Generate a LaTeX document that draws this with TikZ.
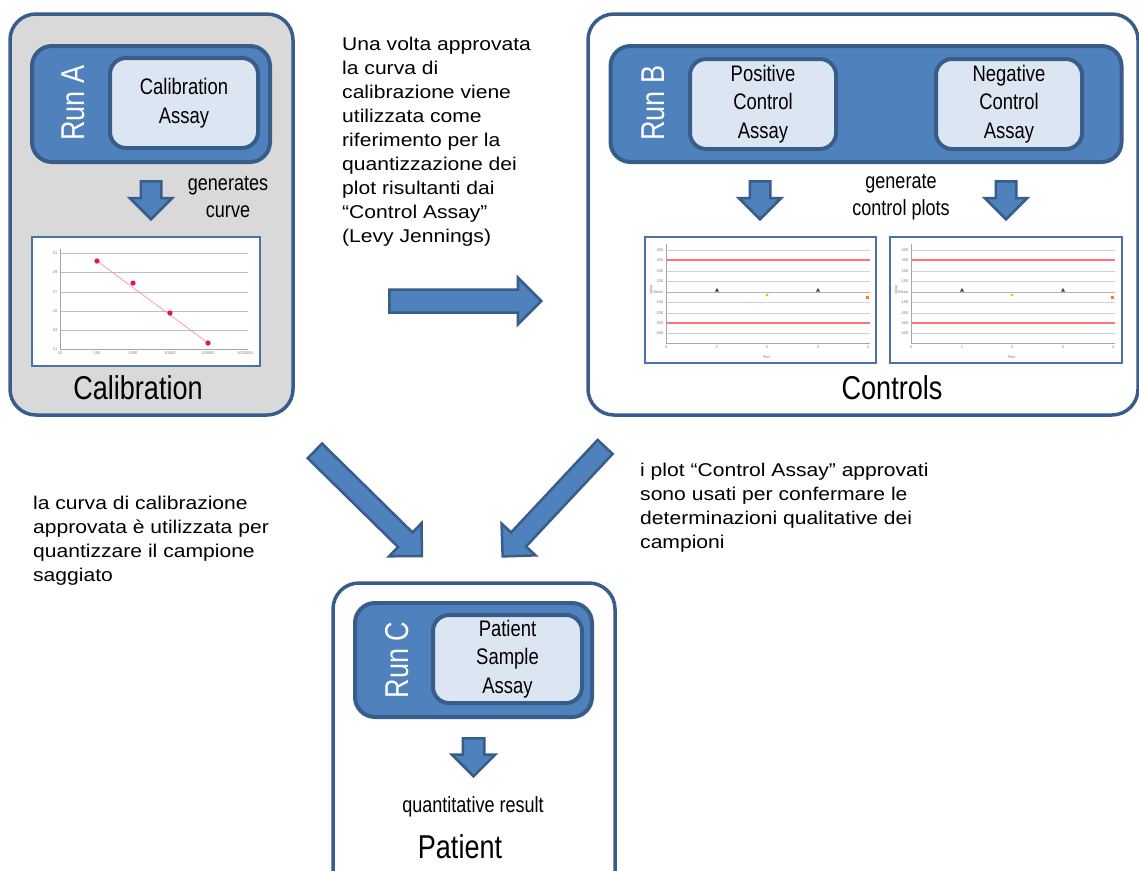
\documentclass[tikz,border=0pt]{standalone}
\usepackage{fontspec}
\setmainfont{Liberation Sans}
\newfontfamily\narrowfont[FakeStretch=0.82]{Liberation Sans}
\newfontfamily\widefont[FakeStretch=1.14]{Liberation Sans}
\usetikzlibrary{shapes.arrows, positioning}

\definecolor{runfill}{HTML}{4F81BD}
\definecolor{runedge}{HTML}{385D8A}
\definecolor{assayfill}{HTML}{DCE6F2}
\definecolor{panelgray}{HTML}{D9D9D9}
\definecolor{chartframe}{HTML}{4A72A8}
\definecolor{ptred}{HTML}{E8105A}

\newcommand{\notefnt}{\widefont\fontsize{18.5}{24}\selectfont}
\newcommand{\boxfnt}{\narrowfont\fontsize{22.5}{28.5}\selectfont}
\newcommand{\runfnt}{\narrowfont\fontsize{33}{33}\selectfont}
\newcommand{\genfnt}{\narrowfont\fontsize{22}{27}\selectfont}
\newcommand{\tickfnt}{\fontsize{4}{4}\selectfont}

% inside of one Levey-Jennings plot, #1 = left edge of its frame
\newcommand{\ctrlplot}[1]{%
  \begin{scope}[shift={(#1,0)}]
    \foreach \yy in {250,271,281,302,313,333}
      \draw[gray!35, line width=0.6pt] (21,\yy) -- (225,\yy);
    \draw[gray!60, line width=0.6pt] (21,292) -- (225,292);
    \foreach \yy in {260,323}
      \draw[red!55, line width=1.4pt] (21,\yy) -- (225,\yy);
    \draw[gray!70, line width=0.6pt] (21,244) -- (21,343) -- (225,343);
    \foreach \yy/\lab in {250/400,260/300,271/200,281/100,292/Mean,302/-100,313/-200,323/-300,333/-400}
      \node[tick, anchor=east] at (19,\yy) {\lab};
    \foreach \xx/\lab in {21/0,72/1,122/2,173/3,223/4}
      \node[tick, anchor=north] at (\xx,345) {\lab};
    \node[tick] at (122,357) {Run};
    \node[tick, rotate=90] at (6,290) {Value};
    \fill[black!75] (70,291.5) -- (74,291.5) -- (72,288) -- cycle;
    \fill[black!75] (171,291.5) -- (175,291.5) -- (173,288) -- cycle;
    \fill[yellow!70!green] (122,295) circle (1.6pt);
    \fill[orange] (220.5,295.5) rectangle (224,299);
  \end{scope}}

\begin{document}
\begin{tikzpicture}[x=1pt, y=-1pt,
    panel/.style={draw=runedge, line width=3.5pt, rounded corners=26pt},
    runbox/.style={draw=runedge, fill=runfill, line width=4pt, rounded corners=20pt},
    assaybox/.style={draw=runedge, fill=assayfill, line width=4pt, rounded corners=16pt,
        align=center, font=\boxfnt, inner sep=0pt},
    runlabel/.style={rotate=90, text=white, font=\runfnt, inner sep=0pt},
    fatarrow/.style={single arrow, draw=runedge, fill=runfill, line width=2.5pt,
        inner xsep=0pt, single arrow tip angle=90},
    downarrow/.style={fatarrow, rotate=-90, anchor=tail, minimum height=38pt,
        inner ysep=9pt, single arrow head extend=11pt},
    note/.style={align=left, font=\notefnt, inner sep=0pt, anchor=north west},
    chart/.style={draw=chartframe, fill=white, line width=1.2pt, inner sep=0pt},
    tick/.style={font=\tickfnt, text=gray, inner sep=0.5pt},
]
\useasboundingbox (0,0) rectangle (1139,870);

% calibration panel
\node[panel, fill=panelgray, minimum width=283pt, minimum height=401pt] (calib) at (151.5,214.5) {};
\node[runbox, minimum width=238pt, minimum height=116pt] (runA) at (151,104) {};
\node[assaybox, minimum width=148pt, minimum height=90pt] (calassay) at (184,103) {Calibration\\Assay};
\node[runlabel] (runAlab) at (73,103) {Run A};
\node[downarrow] (arrA) at (151,180) {};
\node[font=\genfnt, align=center] (gencurve) at (228,197) {generates\\curve};
\node[chart, minimum width=228pt, minimum height=129pt] (calchart) at (146,301.5) {};
\foreach \yy in {253,272,292,311,330}
  \draw[gray!50, line width=0.7pt] (60,\yy) -- (248,\yy);
\draw[gray!70, line width=0.6pt] (60,249) -- (60,349) -- (248,349);
\foreach \yy/\lab in {253/31,272/29,292/27,311/25,330/23,349/21}
  \node[tick, anchor=east] at (58,\yy) {\lab};
\foreach \xx/\lab in {60/10,97/100,133/1000,170/10000,208/100000,245/1000000}
  \node[tick, anchor=north] at (\xx,351) {\lab};
\draw[red!45, line width=0.6pt] (97,261) -- (208,343);
\foreach \xx/\yy in {97/261,133/283,170/313,208/343}
  \fill[ptred] (\xx,\yy) circle (2.6pt);
\node[font=\runfnt] (calibtitle) at (138,388) {Calibration};

% controls panel
\node[panel, fill=white, minimum width=550pt, minimum height=401pt] (controls) at (863,214.5) {};
\node[runbox, minimum width=511pt, minimum height=116pt] (runB) at (866,104) {};
\node[assaybox, minimum width=146pt, minimum height=90pt] (posassay) at (763,104) {Positive\\Control\\Assay};
\node[assaybox, minimum width=146pt, minimum height=90pt] (negassay) at (1009,104) {Negative\\Control\\Assay};
\node[runlabel] (runBlab) at (653,103) {Run B};
\node[downarrow] (arrpos) at (760,180) {};
\node[downarrow] (arrneg) at (1006,180) {};
\node[font=\genfnt, align=center] (genplots) at (901,197) {generate\\control plots};
\node[chart, minimum width=231pt, minimum height=126pt] (poschart) at (760.5,300) {};
\node[chart, minimum width=232pt, minimum height=126pt] (negchart) at (1006,300) {};
\ctrlplot{645}
\ctrlplot{890}
\node[font=\runfnt] (controlstitle) at (892,388) {Controls};

% patient panel
\node[panel, fill=white, minimum width=282pt, minimum height=317pt] (patient) at (474,741.5) {};
\node[runbox, minimum width=237pt, minimum height=114pt] (runC) at (473.5,660) {};
\node[assaybox, minimum width=149pt, minimum height=88pt] (patassay) at (507.5,659) {Patient\\Sample\\Assay};
\node[runlabel] (runClab) at (397,660) {Run C};
\node[downarrow, inner ysep=9.5pt] (arrC) at (473.5,737) {};
\node[font=\genfnt] (quantres) at (473,807) {quantitative result};
\node[font=\runfnt] (patienttitle) at (460,847) {Patient};

% arrows between the panels
\node[fatarrow, anchor=tail, minimum height=152pt, inner ysep=10.25pt,
      single arrow head extend=12pt] (calib2ctrl) at (388,301) {};
\node[fatarrow, anchor=tail, rotate=-44.5, minimum height=150pt, inner ysep=9pt,
      single arrow head extend=13pt] (calib2pat) at (314,450) {};
\node[fatarrow, anchor=tail, rotate=-133.1, minimum height=150pt, inner ysep=9pt,
      single arrow head extend=13pt] (ctrl2pat) at (606,446) {};

% notes
\node[note] (notetop) at (342,36.5) {Una volta approvata\\la curva di\\calibrazione viene\\utilizzata come\\riferimento per la\\quantizzazione dei\\plot risultanti dai\\“Control Assay”\\(Levy Jennings)};
\node[note] (noteleft) at (33,495.5) {la curva di calibrazione\\approvata è utilizzata per\\quantizzare il campione\\saggiato};
\node[note] (noteright) at (640,462.5) {i plot “Control Assay” approvati\\sono usati per confermare le\\determinazioni qualitative dei\\campioni};
\end{tikzpicture}
\end{document}
